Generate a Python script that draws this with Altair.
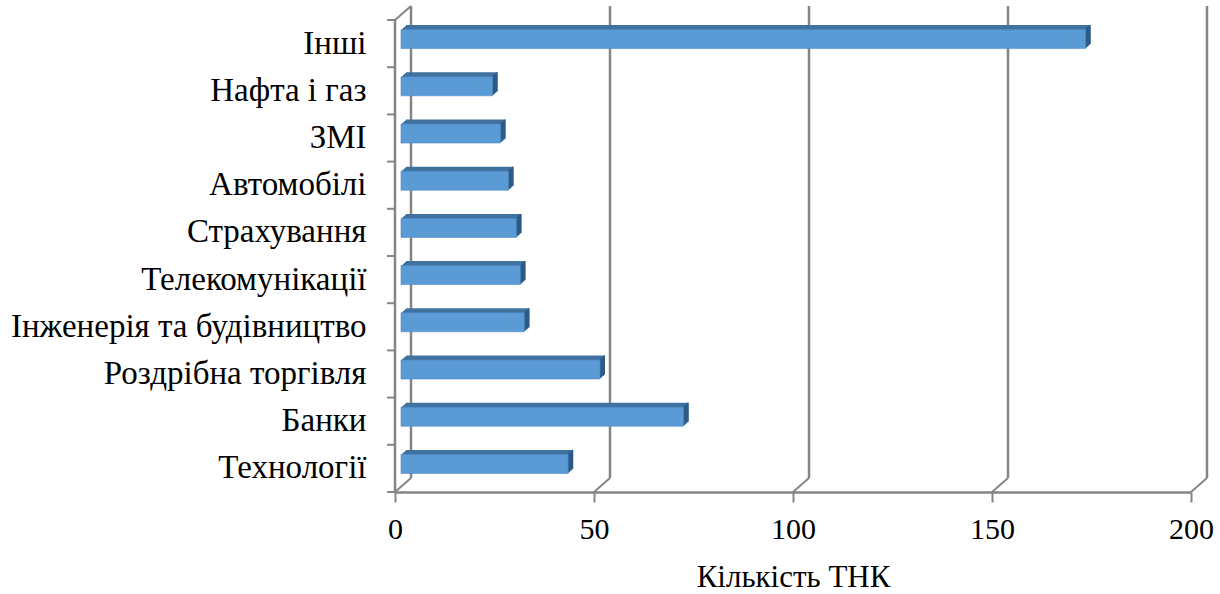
import altair as alt
import pandas as pd

# Number of TNCs by sector
sectors = ["Інші", "Нафта і газ", "ЗМІ", "Автомобілі", "Страхування",
           "Телекомунікації", "Інженерія та будівництво", "Роздрібна торгівля",
           "Банки", "Технології"]
counts = [172, 23, 25, 27, 29, 30, 31, 50, 71, 42]
tick_values = [0, 50, 100, 150, 200]

bars = pd.DataFrame({"sector": sectors, "n": counts})
grid = pd.DataFrame({"v": tick_values})
one = pd.DataFrame({"v": [0]})

W, H = 796, 472          # front plane of the plot
DX, DY = 16, 14          # depth of the back wall in pixels
BAR_H = 19               # thickness of the bar's front face
FONT = "Liberation Serif"
GRID = "#858585"
FRONT = "#5b9bd5"
TOP = "#41729f"
SIDE = "#2e5a86"

x_scale = alt.Scale(domain=[0, 200], nice=False, zero=True)
y_scale = alt.Scale(domain=sectors, paddingInner=0, paddingOuter=0)

X_AXIS = alt.Axis(values=tick_values, title="Кількість ТНК",
                  labelFont=FONT, labelFontSize=30, labelColor="black",
                  titleFont=FONT, titleFontSize=31, titleColor="black",
                  titleFontWeight="normal", titlePadding=18,
                  domainColor=GRID, domainWidth=2.5,
                  tickColor=GRID, tickWidth=2, tickSize=10,
                  labelPadding=12, labelFlush=False, grid=False)
Y_AXIS = alt.Axis(title=None, ticks=False, domain=False,
                  labelFont=FONT, labelFontSize=33, labelColor="black",
                  labelPadding=29, labelLimit=500)


def xq(field):
    return alt.X(field, scale=x_scale, axis=X_AXIS)


def ys(**kw):
    return alt.Y("sector:N", scale=y_scale, axis=Y_AXIS, **kw)


# back-wall gridlines
back = alt.Chart(grid).mark_rule(color=GRID, strokeWidth=2.5, xOffset=DX).encode(
    x=xq("v:Q"), y=alt.value(-DY), y2=alt.value(H - DY),
)

# floor diagonals from front ticks to the back wall
floor = alt.Chart(grid).mark_rule(color=GRID, strokeWidth=2, x2Offset=DX).encode(
    x=xq("v:Q"), x2="v:Q", y=alt.value(H), y2=alt.value(H - DY),
)

# side wall: front edge, top diagonal
wall_front = alt.Chart(one).mark_rule(color=GRID, strokeWidth=2.5).encode(
    x=alt.value(0), y=alt.value(0), y2=alt.value(H))
wall_top = alt.Chart(one).mark_rule(color=GRID, strokeWidth=2).encode(
    x=alt.value(0), x2=alt.value(DX), y=alt.value(0), y2=alt.value(-DY))

# category tick marks at band edges
cat_ticks = alt.Chart(bars).mark_rule(color=GRID, strokeWidth=2).encode(
    y=ys(bandPosition=0), x=alt.value(-8), x2=alt.value(0),
)
last_tick = alt.Chart(one).mark_rule(color=GRID, strokeWidth=2).encode(
    y=alt.value(H), x=alt.value(-8), x2=alt.value(0))

layers = [back, floor, wall_front, wall_top, cat_ticks, last_tick]

# bar extrusion: top colour body, then darker right side
for k in range(5, 0, -1):
    layers.append(
        alt.Chart(bars).mark_bar(height=BAR_H, color=TOP,
                                 xOffset=6 + k, x2Offset=6 + k,
                                 yOffset=-4.5 - 0.9 * k).encode(
            x=xq("n:Q"), y=ys())
    )
for k in range(5, 0, -1):
    layers.append(
        alt.Chart(bars).mark_bar(height=BAR_H, color=SIDE,
                                 xOffset=4.6 + k, x2Offset=6 + k,
                                 yOffset=-4.5 - 0.9 * k).encode(
            x=xq("n:Q"), x2="n:Q", y=ys())
    )

# front face of the bars
front = alt.Chart(bars).mark_bar(height=BAR_H, color=FRONT, stroke="#4b88c4",
                                 strokeWidth=0.6, xOffset=6, x2Offset=6,
                                 yOffset=-4.5).encode(x=xq("n:Q"), y=ys())
layers.append(front)

chart = alt.layer(*layers).properties(
    width=W, height=H,
    padding={"left": 395, "top": 20, "right": 29, "bottom": 102},
    autosize=alt.AutoSizeParams(type="none"),
    background="white",
).configure_view(stroke=None).configure_axis(
    labelFont=FONT, titleFont=FONT
)

chart.save("out.html", embed_options={"renderer": "svg", "actions": False})
